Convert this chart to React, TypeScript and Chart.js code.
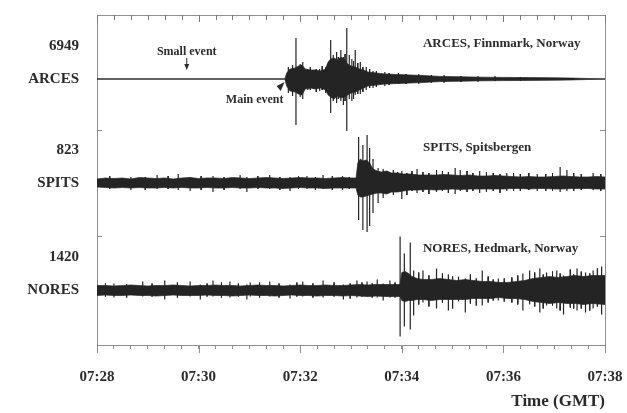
import { useEffect, useRef } from 'react';
import { Chart, registerables } from 'chart.js';

Chart.register(...registerables);

// ---------- data ----------
// time axis: seconds after 07:28:00 GMT
const X_TICK_LABELS = ['07:28', '07:30', '07:32', '07:34', '07:36', '07:38'];
const TRACE_NAMES = ['ARCES', 'SPITS', 'NORES'];
const TRACE_PEAKS = ['6949', '823', '1420'];
const STATION_TITLES = ['ARCES, Finnmark, Norway', 'SPITS, Spitsbergen', 'NORES, Hedmark, Norway'];
const EVENT_LABELS = ['Small event', 'Main event'];
const EVENT_TIMES = [106, 224];
const AXIS_TITLE = 'Time (GMT)';

// ARCES envelope (relative amplitude units)
const ARCES_T = [0, 222, 224, 228, 234, 238, 242, 246, 252, 258, 264, 270, 273, 276, 280, 284, 288, 292, 296, 300, 305, 310, 315, 320, 330, 340, 355, 370, 385, 405, 430, 456, 480, 510, 540, 562, 580, 600];
const ARCES_UP = [0.3, 0.3, 6, 10, 11, 13, 14, 10, 9, 9, 8, 10, 17, 20, 21, 19, 22, 20, 15, 13, 12, 10, 9, 7, 6, 5, 4.5, 4, 3.5, 2.6, 2.2, 1.8, 1.6, 1.4, 1.2, 0.9, 0.5, 0.3];
const ARCES_DN = [0.3, 0.3, 7, 12, 13, 15, 16, 10, 9, 10, 9, 11, 16, 18, 20, 17, 19, 18, 16, 14, 13, 11, 9, 7, 6, 5, 4.5, 4, 3.5, 2.6, 2.2, 1.8, 1.6, 1.4, 1.2, 0.9, 0.5, 0.3];
const ARCES_SPK_T = [226, 231, 235, 240, 243, 249, 256, 263, 270, 276, 279, 283, 288, 291, 295, 298, 301, 305, 311, 318, 326, 340];
const ARCES_SPK_UP = [12, 14, 41, 15, 17, 10, 9, 10, 12, 39, 24, 27, 29, 22, 51, 24, 20, 29, 17, 12, 8, 7];
const ARCES_SPK_DN = [14, 17, 46, 18, 20, 11, 10, 12, 14, 34, 22, 24, 22, 26, 52, 20, 22, 16, 15, 11, 9, 7];
const ARCES_HAIR_T = [252, 259, 266, 273, 285, 293, 303, 308, 314, 322, 330, 345, 356, 365, 380, 395, 410, 430, 450, 470, 500];
const ARCES_HAIR_UP = [12, 10, 13, 15, 22, 25, 18, 16, 12, 10, 8, 6, 6, 5, 4.5, 4, 3.5, 3, 2.5, 2.5, 2];
const ARCES_HAIR_DN = [11, 13, 11, 14, 20, 22, 20, 15, 13, 9, 8, 6, 5, 5, 4.5, 3.5, 3.5, 3, 2.5, 2, 2];

// SPITS envelope
const SPITS_T = [0, 10, 20, 30, 40, 50, 60, 70, 80, 90, 100, 110, 120, 130, 140, 150, 160, 170, 180, 190, 200, 210, 220, 230, 240, 250, 260, 270, 280, 290, 300,
  306, 308, 311, 314, 318, 322, 326, 331, 336, 342, 348, 355, 362, 370, 380, 390, 400, 410, 420, 430, 440, 450, 460, 470, 480, 490, 500, 510, 520, 530, 540, 550, 560, 570, 580, 590, 600];
const SPITS_UP = [4, 5, 4.5, 5, 4, 5.5, 5, 4.5, 5, 4, 5, 5.5, 4.5, 5, 5, 4.5, 5.5, 5, 4.5, 5, 5.5, 5, 4.5, 5, 5.5, 5, 5, 4.5, 5, 5.5, 5,
  5, 20, 24, 22, 23, 20, 14, 12, 11, 12, 10, 10, 9, 9, 8, 8, 8, 8.5, 8, 7.5, 8, 7, 7, 7.5, 7, 6.5, 6, 6.5, 6, 6, 6.5, 7, 6.5, 6, 6, 6.5, 6];
const SPITS_DN = [4, 4.5, 5, 4.5, 5, 4.5, 5, 5, 4.5, 5, 4.5, 5, 5, 4.5, 5, 5, 4.5, 5, 5, 4.5, 5, 5, 5.5, 5, 4.5, 5, 5, 5.5, 5, 5, 5,
  5, 12, 14, 14, 13, 12, 11, 10, 10, 11, 9, 9, 8, 7, 7, 6.5, 7, 6.5, 6, 6.5, 6, 6, 6, 6, 6, 5.5, 5.5, 6, 5.5, 5.5, 6, 6, 5.5, 5.5, 5.5, 6, 6];
const SPITS_SPK_T = [40, 71, 96, 110, 137, 169, 177, 204, 228, 248, 267, 290, 309, 314, 319, 322, 326, 332, 338, 350, 360, 378, 401, 423, 429, 452, 484, 520, 547, 555, 586];
const SPITS_SPK_UP = [6, 8, 9, 6, 7, 8, 6, 8, 6, 7, 8, 7, 46, 38, 48, 35, 24, 15, 14, 13, 12, 14, 13, 15, 13, 12, 10, 9, 16, 13, 10];
const SPITS_SPK_DN = [7, 6, 7, 8, 9, 6, 9, 6, 8, 6, 6, 7, 37, 47, 49, 43, 30, 20, 15, 12, 16, 10, 9, 11, 8, 10, 8, 8, 9, 8, 7];
const SPITS_HAIR_T = [15, 57, 84, 123, 150, 190, 216, 238, 258, 278, 298, 343, 355, 366, 372, 385, 392, 408, 415, 437, 444, 460, 468, 476, 492, 500, 510, 530, 538, 563, 572, 595];
const SPITS_HAIR_UP = [7, 6, 7, 7, 6, 7, 6, 7, 6, 7, 6, 12, 11, 10, 12, 11, 10, 12, 11, 12, 10, 11, 10, 9, 10, 9, 10, 9, 10, 10, 9, 9];
const SPITS_HAIR_DN = [6, 7, 6, 7, 7, 6, 7, 6, 7, 7, 6, 10, 9, 12, 8, 9, 11, 8, 10, 9, 8, 9, 8, 10, 8, 8, 7, 8, 8, 8, 7, 8];

// NORES envelope
const NORES_T = [0, 10, 20, 30, 40, 50, 60, 70, 80, 90, 100, 110, 120, 130, 140, 150, 160, 170, 180, 190, 200, 210, 220, 230, 240, 250, 260, 270, 280, 290, 300, 310, 320, 330, 340, 350,
  358, 360, 364, 368, 372, 378, 385, 395, 405, 415, 425, 435, 445, 455, 465, 475, 485, 495, 505, 515, 525, 535, 545, 555, 565, 575, 585, 600];
const NORES_UP = [5, 5, 4.5, 5, 5.5, 5, 4.5, 5, 5, 5.5, 5, 4.5, 5, 5, 5.5, 5, 5, 4.5, 5, 5.5, 5, 5, 4.5, 5, 5.5, 5, 5, 5.5, 5, 5, 5.5, 6, 5.5, 6, 6, 6,
  6, 18, 19, 17, 14, 12, 11, 11, 12, 11, 10, 11, 10, 9, 9, 8, 8, 9, 10, 12, 13, 14, 13, 14, 15, 14, 15, 15];
const NORES_DN = [5, 4.5, 5, 5, 4.5, 5, 5, 5.5, 5, 4.5, 5, 5, 5, 4.5, 5, 5, 5.5, 5, 4.5, 5, 5, 5.5, 5, 4.5, 5, 5, 5.5, 5, 5, 5.5, 5, 5.5, 6, 5.5, 6, 6,
  6, 10, 11, 10, 10, 9, 9, 10, 9, 9, 9, 9, 8, 8, 8, 7, 8, 8, 9, 11, 12, 13, 12, 13, 13, 14, 13, 14];
const NORES_SPK_T = [20, 54, 80, 110, 122, 137, 157, 177, 181, 204, 228, 243, 267, 291, 307, 319, 331, 338, 346, 358, 363, 370, 374, 385, 401, 415, 427, 435, 455, 474, 503, 511, 523, 531, 543, 551, 567, 577, 586, 596];
const NORES_SPK_UP = [7, 9, 10, 9, 6, 10, 9, 6, 8, 9, 6, 9, 10, 6, 10, 9, 11, 7, 10, 54, 37, 48, 20, 20, 22, 16, 14, 12, 20, 12, 17, 20, 22, 18, 20, 15, 22, 18, 20, 24];
const NORES_SPK_DN = [7, 6, 9, 6, 9, 6, 7, 9, 6, 6, 8, 6, 7, 9, 7, 6, 7, 10, 7, 46, 36, 39, 25, 12, 18, 20, 11, 22, 15, 10, 20, 14, 22, 15, 18, 24, 20, 22, 18, 24];
const NORES_HAIR_T = [10, 35, 65, 95, 130, 147, 167, 192, 215, 236, 255, 280, 299, 313, 325, 352, 380, 392, 408, 420, 441, 448, 462, 468, 481, 490, 497, 517, 527, 538, 547, 559, 563, 572, 582, 591];
const NORES_HAIR_UP = [7, 6, 7, 8, 7, 8, 7, 8, 7, 8, 7, 8, 7, 8, 7, 8, 18, 15, 17, 14, 16, 12, 14, 11, 12, 13, 15, 18, 16, 19, 17, 21, 16, 19, 17, 22];
const NORES_HAIR_DN = [6, 7, 6, 7, 6, 7, 6, 7, 7, 6, 7, 6, 8, 6, 7, 7, 14, 16, 12, 18, 13, 15, 12, 10, 11, 12, 14, 16, 18, 15, 20, 17, 18, 18, 20, 16];

// ---------- layout / style ----------
const TRACE_BASE = [266, 162, 54.5]; // vertical offsets of the three traces
const PEAK_LABEL_OFFSET = 33;
const TITLE_OFFSET = [35, 35, 42];
const TITLE_TIME = 385;
const FRAME_TICK_LEVELS = [215, 109];
const MINOR_STEP = 20;
const TRACE_COLOR = '#242424';
const TEXT_COLOR = '#2b2b2b';
const FRAME_COLOR = '#8f8f8f';
const SERIF = '"Liberation Serif", "Times New Roman", serif';

const TRACES = [
  { t: ARCES_T, up: ARCES_UP, dn: ARCES_DN, st: ARCES_SPK_T, su: ARCES_SPK_UP, sd: ARCES_SPK_DN, ht: ARCES_HAIR_T, hu: ARCES_HAIR_UP, hd: ARCES_HAIR_DN },
  { t: SPITS_T, up: SPITS_UP, dn: SPITS_DN, st: SPITS_SPK_T, su: SPITS_SPK_UP, sd: SPITS_SPK_DN, ht: SPITS_HAIR_T, hu: SPITS_HAIR_UP, hd: SPITS_HAIR_DN },
  { t: NORES_T, up: NORES_UP, dn: NORES_DN, st: NORES_SPK_T, su: NORES_SPK_UP, sd: NORES_SPK_DN, ht: NORES_HAIR_T, hu: NORES_HAIR_UP, hd: NORES_HAIR_DN },
];

const annotationPlugin = {
  id: 'seisAnnotations',
  afterDraw(chart: any) {
    const { ctx, scales, chartArea } = chart;
    const x = scales.x;
    const y = scales.y;
    ctx.save();
    ctx.strokeStyle = '#7a7a7a';
    ctx.lineWidth = 1;
    // inward ticks along the top frame
    for (let v = x.min; v <= x.max; v += MINOR_STEP) {
      const px = Math.round(x.getPixelForValue(v)) + 0.5;
      const major = Math.round(v) % 120 === 0;
      ctx.beginPath();
      ctx.moveTo(px, chartArea.top);
      ctx.lineTo(px, chartArea.top + (major ? 7 : 5));
      ctx.stroke();
    }
    ctx.strokeStyle = FRAME_COLOR;
    // longer marks at labelled (major) times on the bottom axis
    X_TICK_LABELS.forEach((_, i) => {
      const px = Math.round(x.getPixelForValue(i * 120)) + 0.5;
      ctx.beginPath();
      ctx.moveTo(px, chartArea.bottom);
      ctx.lineTo(px, chartArea.bottom + 8);
      ctx.stroke();
    });
    // inner frame ticks between traces
    FRAME_TICK_LEVELS.forEach((v) => {
      const py = Math.round(y.getPixelForValue(v)) + 0.5;
      ctx.beginPath();
      ctx.moveTo(chartArea.left, py);
      ctx.lineTo(chartArea.left + 5, py);
      ctx.moveTo(chartArea.right, py);
      ctx.lineTo(chartArea.right - 5, py);
      ctx.stroke();
    });
    ctx.fillStyle = TEXT_COLOR;
    ctx.strokeStyle = TEXT_COLOR;
    ctx.textBaseline = 'middle';
    // station titles
    ctx.font = `bold 13px ${SERIF}`;
    ctx.textAlign = 'left';
    STATION_TITLES.forEach((s, i) => {
      ctx.fillText(s, x.getPixelForValue(TITLE_TIME), y.getPixelForValue(TRACE_BASE[i] + TITLE_OFFSET[i]));
    });
    // small event
    ctx.font = `bold 12px ${SERIF}`;
    ctx.textAlign = 'center';
    const sx = x.getPixelForValue(EVENT_TIMES[0]);
    const by = y.getPixelForValue(TRACE_BASE[0]);
    ctx.fillText(EVENT_LABELS[0], sx, by - 27);
    ctx.lineWidth = 1;
    ctx.beginPath();
    ctx.moveTo(sx, by - 21);
    ctx.lineTo(sx, by - 14);
    ctx.stroke();
    ctx.beginPath();
    ctx.moveTo(sx - 2.5, by - 15);
    ctx.lineTo(sx + 2.5, by - 15);
    ctx.lineTo(sx, by - 9);
    ctx.closePath();
    ctx.fill();
    // main event
    const mx = x.getPixelForValue(EVENT_TIMES[1]);
    ctx.fillText(EVENT_LABELS[1], mx - 32, by + 21);
    ctx.beginPath();
    ctx.moveTo(mx - 2, by + 3);
    ctx.lineTo(mx - 10, by + 7);
    ctx.lineTo(mx - 6, by + 12);
    ctx.closePath();
    ctx.fill();
    ctx.restore();
  },
};

function strokeSet(label: string, ts: number[], ups: number[], dns: number[], base: number, width: number) {
  const pts: any[] = [];
  ts.forEach((t, i) => {
    pts.push({ x: t, y: base + ups[i] });
    pts.push({ x: t, y: base - dns[i] });
    pts.push({ x: t, y: null });
  });
  return {
    label,
    data: pts,
    borderColor: TRACE_COLOR,
    borderWidth: width,
    pointRadius: 0,
    spanGaps: false,
    fill: false,
  };
}

export default function App() {
  const ref = useRef<HTMLCanvasElement>(null);
  useEffect(() => {
    document.body.style.margin = '0';
    const canvas = ref.current;
    if (!canvas) return;
    const datasets: any[] = [];
    TRACES.forEach((tr, k) => {
      const base = TRACE_BASE[k];
      datasets.push({
        label: TRACE_NAMES[k] + ' upper',
        data: tr.t.map((t, i) => ({ x: t, y: base + tr.up[i] })),
        borderColor: TRACE_COLOR,
        backgroundColor: TRACE_COLOR,
        borderWidth: 0.7,
        pointRadius: 0,
        tension: 0,
        fill: '+1',
      });
      datasets.push({
        label: TRACE_NAMES[k] + ' lower',
        data: tr.t.map((t, i) => ({ x: t, y: base - tr.dn[i] })),
        borderColor: TRACE_COLOR,
        backgroundColor: TRACE_COLOR,
        borderWidth: 0.7,
        pointRadius: 0,
        tension: 0,
        fill: false,
      });
      datasets.push(strokeSet(TRACE_NAMES[k] + ' spikes', tr.st, tr.su, tr.sd, base, 1.2));
      datasets.push(strokeSet(TRACE_NAMES[k] + ' hairs', tr.ht, tr.hu, tr.hd, base, 1));
    });

    const yTicks: number[] = [];
    const yLabels: Record<string, string> = {};
    TRACE_BASE.forEach((b, i) => {
      yTicks.push(b, b + PEAK_LABEL_OFFSET);
      yLabels[String(b)] = TRACE_NAMES[i];
      yLabels[String(b + PEAK_LABEL_OFFSET)] = TRACE_PEAKS[i];
    });

    const chart = new Chart(canvas, {
      type: 'line',
      data: { datasets },
      plugins: [annotationPlugin],
      options: {
        responsive: false,
        animation: false,
        devicePixelRatio: 1,
        layout: { padding: 0 },
        plugins: { legend: { display: false }, tooltip: { enabled: false } },
        scales: {
          x: {
            type: 'linear',
            position: 'bottom',
            min: 0,
            max: 600,
            afterFit: (s: any) => { s.height = 68; s.paddingLeft = 0; s.paddingRight = 0; },
            ticks: {
              stepSize: MINOR_STEP,
              autoSkip: false,
              maxRotation: 0,
              padding: 19,
              color: TEXT_COLOR,
              font: { family: SERIF, size: 15, weight: 'bold' },
              callback: (v: any) => {
                const n = Math.round(Number(v));
                return n % 120 === 0 ? X_TICK_LABELS[n / 120] : '';
              },
            },
            grid: { drawOnChartArea: false, tickLength: 4, color: FRAME_COLOR },
            border: { display: true, color: FRAME_COLOR, width: 1 },
            title: {
              display: true,
              text: AXIS_TITLE,
              align: 'end',
              color: TEXT_COLOR,
              font: { family: SERIF, size: 17, weight: 'bold' },
              padding: { top: 0, bottom: 1 },
            },
          },
          x2: {
            type: 'linear',
            position: 'top',
            min: 0,
            max: 600,
            afterFit: (s: any) => { s.height = 15; s.paddingLeft = 0; s.paddingRight = 0; },
            ticks: { display: false },
            grid: { drawOnChartArea: false, drawTicks: false, color: FRAME_COLOR },
            border: { display: true, color: FRAME_COLOR, width: 1 },
          },
          y: {
            type: 'linear',
            position: 'left',
            min: 0,
            max: 330,
            afterFit: (s: any) => { s.width = 97; s.paddingTop = 0; s.paddingBottom = 0; },
            afterBuildTicks: (s: any) => { s.ticks = yTicks.map((v) => ({ value: v })); },
            ticks: {
              autoSkip: false,
              padding: 18,
              color: TEXT_COLOR,
              font: { family: SERIF, size: 15, weight: 'bold' },
              callback: (v: any) => yLabels[String(v)] ?? '',
            },
            grid: { drawOnChartArea: false, drawTicks: false },
            border: { display: true, color: FRAME_COLOR, width: 1 },
          },
          y2: {
            type: 'linear',
            position: 'right',
            min: 0,
            max: 330,
            afterFit: (s: any) => { s.width = 22; s.paddingTop = 0; s.paddingBottom = 0; },
            ticks: { display: false },
            grid: { drawOnChartArea: false, drawTicks: false },
            border: { display: true, color: FRAME_COLOR, width: 1 },
          },
        },
      } as any,
    });
    return () => chart.destroy();
  }, []);
  return (
    <div style={{ width: 627, height: 413, position: 'relative', background: '#fff' }}>
      <canvas ref={ref} width={627} height={413} style={{ display: 'block' }} />
    </div>
  );
}
